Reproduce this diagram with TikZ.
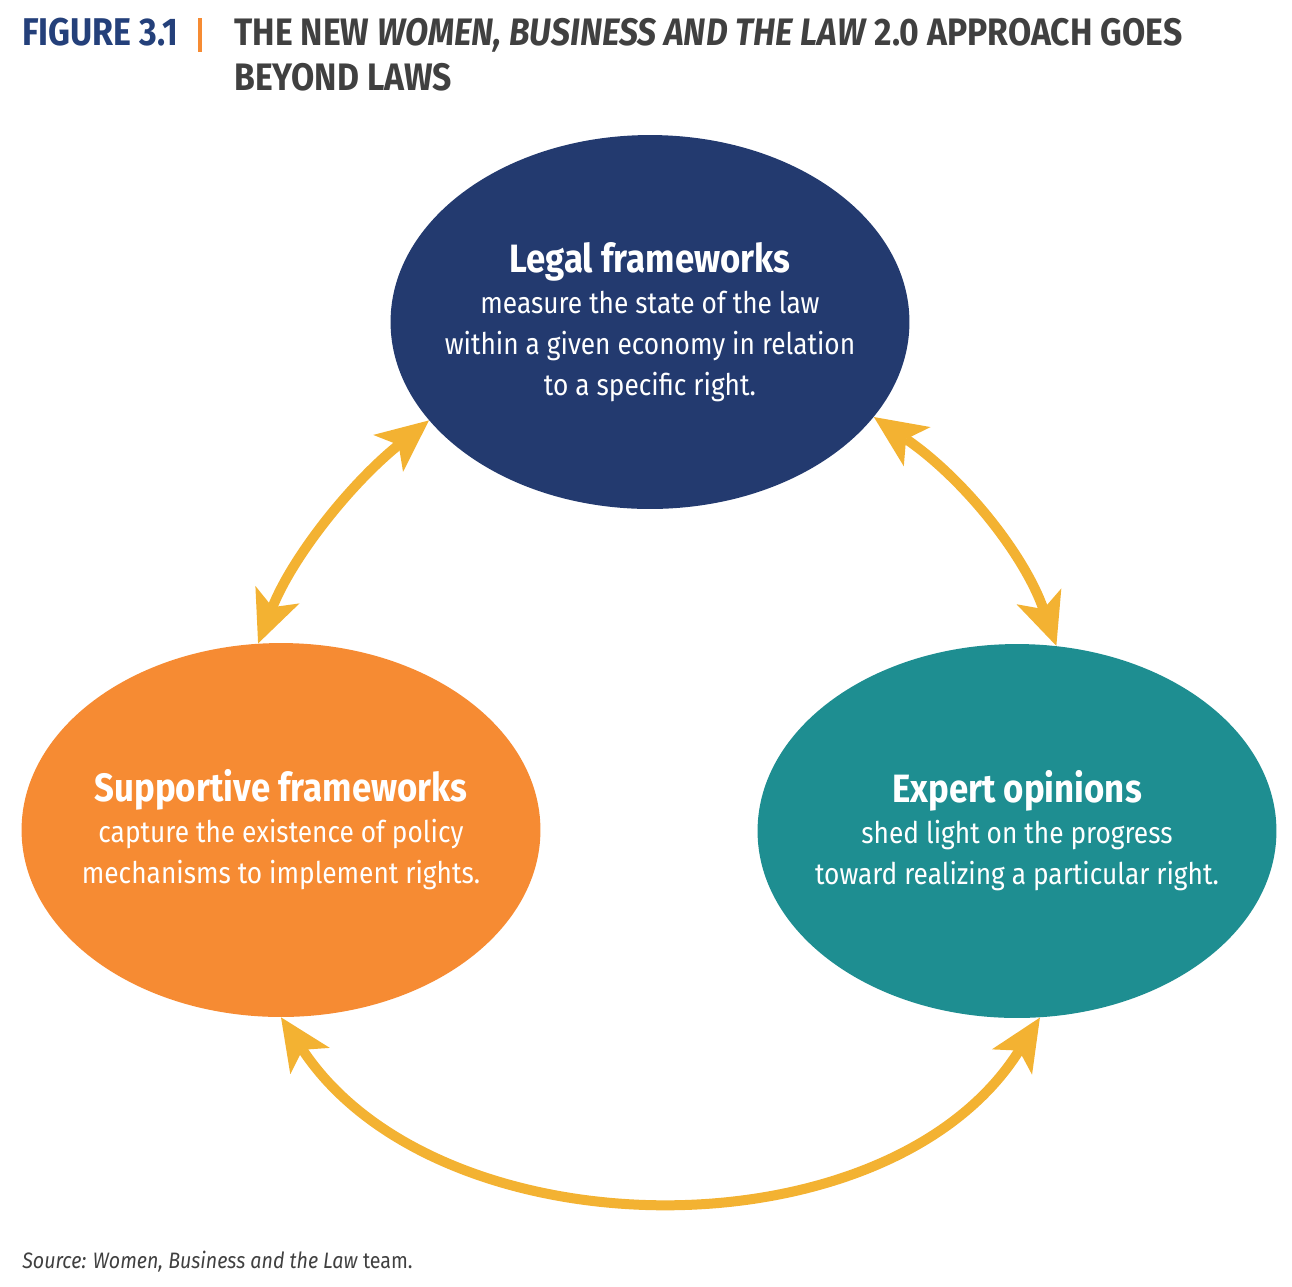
\documentclass[tikz,border=0pt]{standalone}
\usepackage{fontspec}
\setmainfont{Fira Sans}[FakeStretch=0.88]
\usetikzlibrary{arrows.meta,shapes.geometric}
\definecolor{navy}{HTML}{233A6F}
\definecolor{tangerine}{HTML}{F68B33}
\definecolor{teal}{HTML}{1E8E91}
\definecolor{gold}{HTML}{F3B232}
\definecolor{titleblue}{HTML}{24407A}
\definecolor{inkgray}{HTML}{404040}
\tikzset{
  bubble/.style={ellipse, draw=none, minimum width=10.38cm, minimum height=7.48cm, inner sep=0pt},
  bubbletext/.style={text=white, align=center, inner sep=0pt, font=\fontsize{17}{23.4}\selectfont},
  twoway/.style={draw=gold, line width=0.2cm,
    {Stealth[length=1.05cm,width=0.95cm,inset=0.27cm,line width=0pt]}-{Stealth[length=1.05cm,width=0.95cm,inset=0.27cm,line width=0pt]}},
}
\newcommand{\headline}[1]{{\bfseries\fontsize{22.5}{23.4}\selectfont #1}}
\begin{document}
\begin{tikzpicture}[x=0.02cm, y=-0.02cm]
			\useasboundingbox (0,0) rectangle (1292,1286);
			%%%%% TITLE %%%%%
			\node[anchor=base west, inner sep=0pt, text=titleblue, font=\bfseries\fontsize{22}{25.5}\selectfont] (fignum) at (22,45) {FIGURE 3.1};
			\draw[tangerine, line width=0.08cm] (200,18) -- (200,52);
			\node[anchor=base west, inner sep=0pt, text=inkgray, align=left, font=\bfseries\fontsize{21.8}{25.5}\selectfont] (figtitle) at (234,90)
				{THE NEW \textit{WOMEN, BUSINESS AND THE LAW} 2.0 APPROACH GOES\\BEYOND LAWS};
			
			%%%%% BUBBLES %%%%%
			\node[bubble, fill=navy] (legal) at (650,322) {};
			\node[bubbletext] (legal-text) at (legal) {\headline{Legal frameworks}\\measure the state of the law\\within a given economy in relation\\to a specific right.};
			
			\node[bubble, fill=tangerine] (supportive) at (281,830) {};
			\node[bubbletext] (supportive-text) at (supportive) {\headline{Supportive frameworks}\\capture the existence of policy\\mechanisms to implement rights.};
			
			\node[bubble, fill=teal] (expert) at (1017,831) {};
			\node[bubbletext] (expert-text) at (expert) {\headline{Expert opinions}\\shed light on the progress\\toward realizing a particular right.};
			
			%%%%% ARROWS %%%%%
			\draw[twoway] (supportive.97) .. controls (292,558) and (349,485) .. (legal.204);
			\draw[twoway] (legal.337) .. controls (963,478) and (1024,554) .. (expert.78);
			\draw[twoway] (supportive.270) .. controls (439,1255) and (888,1259) .. (expert.277);
			
			%%%%% SOURCE %%%%%
			\node[anchor=base west, inner sep=0pt, text=inkgray, font=\fontsize{12.7}{16}\selectfont] (source) at (22,1268)
				{\textit{Source: Women, Business and the Law} team.};
		\end{tikzpicture}
\end{document}
